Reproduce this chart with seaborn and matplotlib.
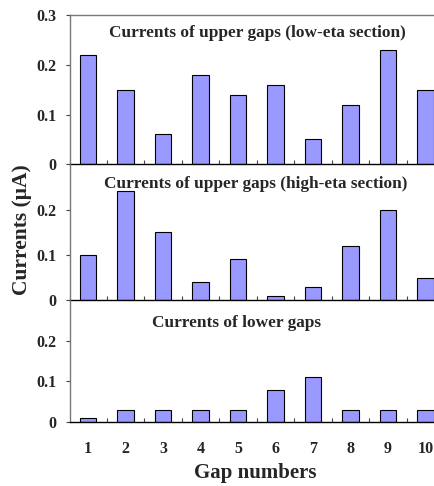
import matplotlib
matplotlib.use("Agg")
import matplotlib.pyplot as plt
import seaborn as sns
import pandas as pd
from matplotlib.ticker import FixedLocator, FuncFormatter

gaps = [str(i) for i in range(1, 11)]
low_eta = [0.22, 0.15, 0.06, 0.18, 0.14, 0.16, 0.05, 0.12, 0.23, 0.15]
high_eta = [0.10, 0.24, 0.15, 0.04, 0.09, 0.01, 0.03, 0.12, 0.20, 0.05]
lower = [0.01, 0.03, 0.03, 0.03, 0.03, 0.08, 0.11, 0.03, 0.03, 0.03]
titles = ["Currents of upper gaps (low-eta section)",
          "Currents of upper gaps (high-eta section)",
          "Currents of lower gaps"]
yticks_sets = [[0, 0.1, 0.2, 0.3], [0, 0.1, 0.2], [0, 0.1, 0.2]]

sns.set_style("ticks")
plt.rcParams['font.family'] = ['Liberation Serif', 'DejaVu Serif']
plt.rcParams['font.weight'] = 'bold'

W, H = 434, 486
fig = plt.figure(figsize=(W / 100, H / 100), dpi=100)

def px_axes(top, bottom, left=70, right=443.5):
    return fig.add_axes([left / W, 1 - bottom / H, (right - left) / W, (bottom - top) / H])

panels = [(15, 164.3), (164.3, 300.3), (300.3, 422)]
series = [low_eta, high_eta, lower]
title_pos = [(257, 33), (256, 184), (236, 323)]
bar_color = "#9999FF"

for i, ((t, b), vals) in enumerate(zip(panels, series)):
    ax = px_axes(t, b)
    df = pd.DataFrame({"gap": gaps, "current": vals})
    sns.barplot(data=df, x="gap", y="current", color=bar_color, saturation=1,
                edgecolor="black", linewidth=0.8, width=0.43, ax=ax)
    ax.set_xlim(-0.48, 9.48)
    ax.set_ylim(0, 0.3)
    ax.set_xlabel("")
    ax.set_ylabel("")
    ax.yaxis.set_major_locator(FixedLocator(yticks_sets[i]))
    ax.yaxis.set_major_formatter(FuncFormatter(lambda v, p: "0" if v == 0 else f"{v:.1f}"))
    ax.tick_params(axis="y", length=3, width=0.8, color="#444444", pad=6.5,
                   labelsize=11.5, direction="out")
    ax.xaxis.set_minor_locator(FixedLocator([k + 0.5 for k in range(9)]))
    ax.tick_params(axis="x", which="minor", length=3, width=0.8, direction="in",
                   color="#444444")
    ax.tick_params(axis="x", which="major", length=0, pad=14, labelsize=11.5)
    if i < 2:
        ax.tick_params(axis="x", which="major", labelbottom=False)
    for lab in ax.get_yticklabels() + ax.get_xticklabels():
        lab.set_fontweight("bold")
    ax.spines["left"].set_color("#777777")
    ax.spines["bottom"].set_color("black")
    ax.spines["bottom"].set_linewidth(1.0)
    ax.spines["left"].set_linewidth(1.0)
    ax.spines["right"].set_visible(False)
    if i == 0:
        ax.spines["top"].set_color("#777777")
        ax.spines["top"].set_linewidth(1.0)
    else:
        ax.spines["top"].set_visible(False)
    ax.patch.set_alpha(0)
    tx, ty = title_pos[i]
    fig.text(tx / W, 1 - ty / H, titles[i], ha="center", va="center",
             fontsize=12.4, fontweight="bold")

fig.text(22 / W, 1 - 230 / H, "Currents (μA)", rotation=90, ha="center", va="center",
         fontsize=15.5, fontweight="bold")
fig.text(255 / W, 1 - 473 / H, "Gap numbers", ha="center", va="center",
         fontsize=15, fontweight="bold")

fig.savefig("out.png", dpi=100)
